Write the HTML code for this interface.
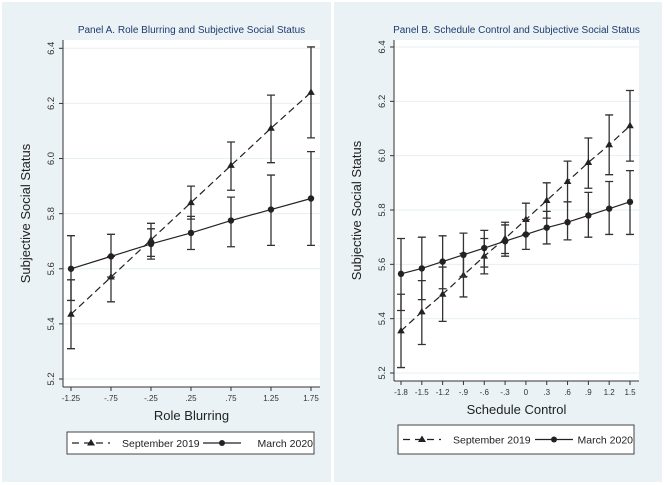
<!DOCTYPE html>
<html><head><meta charset="utf-8"><style>
body{margin:0;background:#fff;}
svg{display:block;font-family:"Liberation Sans",sans-serif;}
</style></head><body>
<svg id="c" width="664" height="485">
<rect x="2" y="2" width="329" height="480" fill="#eaf2f5"/>
<rect x="334" y="2" width="328" height="480" fill="#eaf2f5"/>
</svg>
<script>
const yTicks=[5.2,5.4,5.6,5.8,6.0,6.2,6.4];
const yTickLabels=["5.2","5.4","5.6","5.8","6.0","6.2","6.4"];
const aX=[-1.25,-0.75,-0.25,0.25,0.75,1.25,1.75];
const aXLabels=["-1.25","-.75","-.25",".25",".75","1.25","1.75"];
const aSep=[5.435,5.57,5.705,5.84,5.975,6.11,6.24];
const aSepLo=[5.31,5.48,5.645,5.78,5.885,5.985,6.075];
const aSepHi=[5.56,5.645,5.765,5.90,6.06,6.23,6.405];
const aMar=[5.60,5.645,5.69,5.73,5.775,5.815,5.855];
const aMarLo=[5.485,5.57,5.635,5.67,5.68,5.685,5.685];
const aMarHi=[5.72,5.725,5.745,5.79,5.86,5.94,6.025];
const bX=[-1.8,-1.5,-1.2,-0.9,-0.6,-0.3,0,0.3,0.6,0.9,1.2,1.5];
const bXLabels=["-1.8","-1.5","-1.2","-.9","-.6","-.3","0",".3",".6",".9","1.2","1.5"];
const bSep=[5.355,5.425,5.49,5.56,5.63,5.695,5.765,5.835,5.905,5.975,6.04,6.11];
const bSepLo=[5.22,5.305,5.39,5.48,5.565,5.64,5.71,5.77,5.83,5.88,5.93,5.98];
const bSepHi=[5.49,5.54,5.59,5.64,5.695,5.755,5.825,5.90,5.98,6.065,6.15,6.24];
const bMar=[5.565,5.585,5.61,5.635,5.66,5.685,5.71,5.735,5.755,5.78,5.805,5.83];
const bMarLo=[5.43,5.47,5.51,5.555,5.59,5.63,5.655,5.675,5.69,5.70,5.71,5.71];
const bMarHi=[5.695,5.70,5.705,5.715,5.725,5.745,5.765,5.795,5.83,5.865,5.905,5.945];

const svg=document.getElementById('c');
const NS='http://www.w3.org/2000/svg';
function mk(tag,attrs,parent){const e=document.createElementNS(NS,tag);for(const k in attrs)e.setAttribute(k,attrs[k]);(parent||svg).appendChild(e);return e;}

function panel(p){
  const g=mk('g',{});
  
  
  const xS=v=>p.x0px+(v-p.xs[0])/(p.xs[p.xs.length-1]-p.xs[0])*(p.x1px-p.x0px);
  const yS=v=>p.y52+(v-5.2)/1.2*(p.y64-p.y52);
  const plot=mk('rect',{x:p.L,y:40,width:p.R-p.L,height:p.B-40,fill:'#fff'},g);
  
  
  yTicks.forEach((t,i)=>{
    const y=yS(t);
    const gl=mk('line',{x1:p.L,x2:p.R,y1:y,y2:y,stroke:'#e6eff3','stroke-width':1},g);
    
    
    mk('line',{x1:p.L-4,x2:p.L,y1:y,y2:y,stroke:'#333'},g);
    const tx=mk('text',{x:p.L-9,y:y,'font-size':9.5,fill:'#333','text-anchor':'middle',transform:`rotate(-90 ${p.L-9} ${y})`},g);
    tx.textContent=yTickLabels[i];
    
    
  });
  mk('line',{x1:p.L,x2:p.L,y1:40,y2:p.B,stroke:'#333'},g);
  mk('line',{x1:p.L,x2:p.R,y1:p.B,y2:p.B,stroke:'#333'},g);
  p.xs.forEach((v,i)=>{
    const x=xS(v);
    mk('line',{x1:x,x2:x,y1:p.B,y2:p.B+4,stroke:'#333'},g);
    const tx=mk('text',{x:x,y:p.B+14,'font-size':8,fill:'#333','text-anchor':'middle'},g);
    tx.textContent=p.xl[i];
    
    
  });
  const t=mk('text',{x:(p.L+p.R)/2,y:33,'font-size':10,fill:'#1e3a6e','text-anchor':'middle'},g);
  t.textContent=p.title;
  
  
  const xt=mk('text',{x:(p.L+p.R)/2,y:p.B+33,'font-size':13,fill:'#222','text-anchor':'middle'},g);
  xt.textContent=p.xTitle;
  
  
  const yy=(40+p.B)/2;
  const yt=mk('text',{x:p.L-33,y:yy,'font-size':13,fill:'#222','text-anchor':'middle',transform:`rotate(-90 ${p.L-33} ${yy})`},g);
  yt.textContent='Subjective Social Status';
  
  
  function series(vals,lo,hi,dash,marker,name){
    const sg=mk('g',{},g);
    
    
    vals.forEach((v,i)=>{
      const x=xS(p.xs[i]);
      const e=mk('path',{d:`M${x-4},${yS(hi[i])}H${x+4}M${x},${yS(hi[i])}V${yS(lo[i])}M${x-4},${yS(lo[i])}H${x+4}`,stroke:'#333','stroke-width':1.3,fill:'none'},sg);
      
      
    });
    const ln=mk('polyline',{points:vals.map((v,i)=>xS(p.xs[i])+','+yS(v)).join(' '),fill:'none',stroke:'#222','stroke-width':1.2,'stroke-dasharray':dash},sg);
    
    
    vals.forEach((v,i)=>{
      const x=xS(p.xs[i]),y=yS(v);
      const m=marker==='tri'?mk('path',{d:`M${x},${y-4}L${x+3.8},${y+2.5}L${x-3.8},${y+2.5}Z`,fill:'#222'},sg):mk('circle',{cx:x,cy:y,r:3.2,fill:'#222'},sg);
      
      
    });
  }
  series(p.sep,p.sepLo,p.sepHi,'7 4','tri','series-september-2019');
  series(p.mar,p.marLo,p.marHi,'none','dot','series-march-2020');
  const lg=mk('g',{},g);
  
  
  const l=p.lg;
  mk('rect',{x:l.x,y:l.y,width:l.w,height:l.h,fill:'#fff',stroke:'#444'},lg);
  const cy=l.y+l.h/2;
  mk('line',{x1:l.x+5,x2:l.x+43,y1:cy,y2:cy,stroke:'#222','stroke-dasharray':'7 5','stroke-width':1.2},lg);
  mk('path',{d:`M${l.x+24},${cy-4}L${l.x+28},${cy+2.5}L${l.x+20},${cy+2.5}Z`,fill:'#222'},lg);
  const t1=mk('text',{x:l.x+l.t1,y:cy+4,'font-size':10.5,fill:'#222'},lg);t1.textContent='September 2019';
  
  
  mk('line',{x1:l.x+l.s,x2:l.x+l.s+38,y1:cy,y2:cy,stroke:'#222','stroke-width':1.2},lg);
  mk('circle',{cx:l.x+l.s+19,cy:cy,r:3,fill:'#222'},lg);
  const t2=mk('text',{x:l.x+l.w-1,y:cy+4,'font-size':10.5,fill:'#222','text-anchor':'end'},lg);t2.textContent='March 2020';
  
  
}
panel({id:'panel-a',L:63,R:320,B:387,x0px:71,x1px:311,y52:379,y64:48.3,xs:aX,xl:aXLabels,
  title:'Panel A. Role Blurring and Subjective Social Status',xTitle:'Role Blurring',
  sep:aSep,sepLo:aSepLo,sepHi:aSepHi,mar:aMar,marLo:aMarLo,marHi:aMarHi,lg:{x:67,y:432,w:247,h:22,t1:55,s:136}});
panel({id:'panel-b',L:394,R:639,B:381,x0px:401,x1px:630,y52:373,y64:47,xs:bX,xl:bXLabels,
  title:'Panel B. Schedule Control and Subjective Social Status',xTitle:'Schedule Control',
  sep:bSep,sepLo:bSepLo,sepHi:bSepHi,mar:bMar,marLo:bMarLo,marHi:bMarHi,lg:{x:398,y:425,w:236,h:29,t1:55,s:137}});
</script>
</body></html>
